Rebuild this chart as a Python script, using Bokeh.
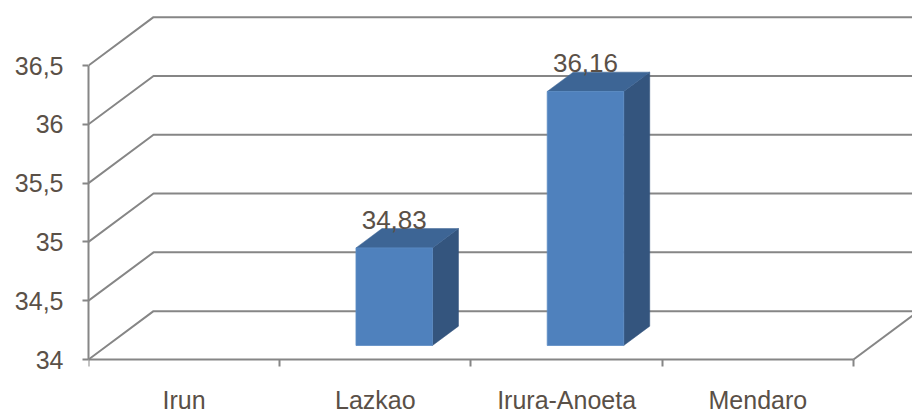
import math

from bokeh.core.properties import value
from bokeh.embed import file_html
from bokeh.models import CustomJSTickFormatter, FixedTicker, LinearAxis, Range1d
from bokeh.plotting import figure
from bokeh.resources import INLINE

# --- data -------------------------------------------------------------
categories = ["Irun", "Lazkao", "Irura-Anoeta", "Mendaro"]
values = [math.nan, 34.83, 36.16, math.nan]
value_labels = ["", "34,83", "36,16", ""]
y_ticks = [34.0, 34.5, 35.0, 35.5, 36.0, 36.5]
y_tick_labels = ["34", "34,5", "35", "35,5", "36", "36,5"]

# --- style / geometry -------------------------------------------------
FONT = "Liberation Sans"
TEXT = "#5a5047"
GRID = "#868686"
FRONT = "#4f81bd"
SIDE = "#34557e"
TOP = "#3d6595"

Y0 = y_ticks[0]
PX_PER_Y = 117.6        # vertical scale, pixels per unit
DEPTH_X = 0.34          # wall depth, x units
DEPTH_Y = 0.411         # wall depth, y units
BAR_W = 0.4             # bar width, category units
BAR_F0 = 0.29           # bar front plane (fraction of depth)
BAR_F1 = 0.69           # bar back plane

# the frame runs to the bottom edge; the category axis is pinned at Y0
p = figure(width=912, height=412,
           x_range=Range1d(0, 4.3085),
           y_range=Range1d(Y0 - 53 / PX_PER_Y, Y0 + 359 / PX_PER_Y),
           x_axis_location=None, y_axis_location=None,
           output_backend="svg", toolbar_location=None,
           min_border_left=88, min_border_right=0,
           min_border_top=0, min_border_bottom=0)
p.outline_line_color = None
p.grid.visible = False
p.background_fill_color = "white"

# back wall grid lines with left-wall diagonals
xs, ys = [], []
for t in y_ticks:
    xs.append([0, DEPTH_X, 5])
    ys.append([t, t + DEPTH_Y, t + DEPTH_Y])
n = len(categories)
# right floor edge
xs.append([n, n + DEPTH_X])
ys.append([Y0, Y0 + DEPTH_Y])
p.multi_line(xs, ys, line_color=GRID, line_width=2)

# 3-D bars
fx, fy, sx, sy, tx, ty = [], [], [], [], [], []
lx, ly, lt = [], [], []
ox0, oy0 = BAR_F0 * DEPTH_X, BAR_F0 * DEPTH_Y
ox1, oy1 = BAR_F1 * DEPTH_X, BAR_F1 * DEPTH_Y
for i, v in enumerate(values):
    if math.isnan(v):
        continue
    c = i + 0.5
    xl, xr = c - BAR_W / 2 + ox0, c + BAR_W / 2 + ox0
    b, top = Y0 + oy0, v + oy0
    ddx, ddy = ox1 - ox0, oy1 - oy0
    fx.append([xl, xr, xr, xl]); fy.append([b, b, top, top])
    sx.append([xr, xr + ddx, xr + ddx, xr]); sy.append([b, b + ddy, top + ddy, top])
    tx.append([xl, xr, xr + ddx, xl + ddx]); ty.append([top, top, top + ddy, top + ddy])
    lx.append(c + ox0); ly.append(v); lt.append(value_labels[i])

p.patches(sx, sy, fill_color=SIDE, line_color=SIDE, line_width=0.5)
p.patches(tx, ty, fill_color=TOP, line_color=TOP, line_width=0.5)
p.patches(fx, fy, fill_color=FRONT, line_color="#5b8bc4", line_width=0.8)

p.text(lx, ly, text=lt, text_font=value(FONT), text_font_size="26px",
       text_color=TEXT, text_align="center", text_baseline="alphabetic",
       y_offset=-42)

# value axis (front plane)
yaxis = LinearAxis(
    ticker=FixedTicker(ticks=y_ticks),
    formatter=CustomJSTickFormatter(
        args=dict(tvals=y_ticks, tlabels=y_tick_labels),
        code="const i = tvals.findIndex(t => Math.abs(t - tick) < 1e-6);"
             " return i >= 0 ? tlabels[i] : '';"),
    bounds=(y_ticks[0], y_ticks[-1]),
    axis_line_color=GRID, axis_line_width=2,
    major_tick_line_color=GRID, major_tick_line_width=2,
    major_tick_out=6, major_tick_in=0,
    minor_tick_line_color=None,
    major_label_standoff=19,
    major_label_text_font=FONT, major_label_text_font_size="25px",
    major_label_text_color=TEXT)
p.add_layout(yaxis, "left")

# category axis: ticks on slot boundaries, names at slot centres
xaxis = LinearAxis(
    fixed_location=Y0,
    ticker=FixedTicker(ticks=[i + 0.5 for i in range(n)],
                       minor_ticks=list(range(n + 1))),
    formatter=CustomJSTickFormatter(
        args=dict(names=categories),
        code="return names[Math.round(tick - 0.5)];"),
    bounds=(0, n),
    axis_line_color=GRID, axis_line_width=2,
    major_tick_out=0, major_tick_in=0, major_tick_line_color=None,
    minor_tick_out=7, minor_tick_in=0,
    minor_tick_line_color=GRID, minor_tick_line_width=2,
    major_label_standoff=19,
    major_label_text_font=FONT, major_label_text_font_size="25px",
    major_label_text_color=TEXT)
p.add_layout(xaxis, "below")

open("out.html", "w").write(file_html(p, INLINE))
